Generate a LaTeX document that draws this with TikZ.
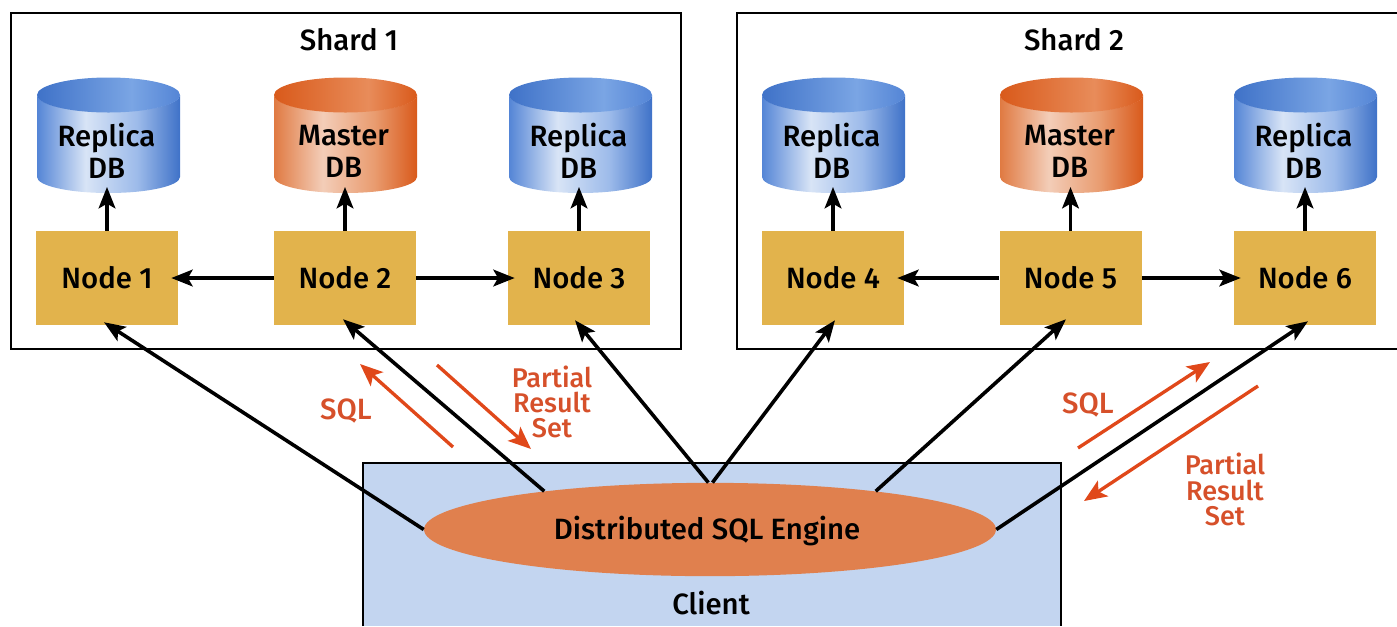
\documentclass[tikz,border=0pt]{standalone}
\usepackage{fontspec}
\setmainfont{Fira Sans}[BoldFont={Fira Sans Medium}]
\usetikzlibrary{arrows.meta,calc,shapes.geometric}
\definecolor{bluee}{HTML}{3F72C8}
\definecolor{bluele}{HTML}{5485D6}
\definecolor{bluel}{HTML}{D8E4F6}
\definecolor{bluem}{HTML}{9DBBEA}
\definecolor{bluet}{HTML}{7AA5E4}
\definecolor{orge}{HTML}{D95A1B}
\definecolor{orgle}{HTML}{E07A42}
\definecolor{orgl}{HTML}{F3CDB8}
\definecolor{orgm}{HTML}{E99C70}
\definecolor{orgt}{HTML}{E88C5A}
\definecolor{gold}{HTML}{E2B34C}
\definecolor{clientc}{HTML}{C3D5F0}
\definecolor{engc}{HTML}{E0804E}
\definecolor{redt}{HTML}{E0481A}
\definecolor{redl}{HTML}{D6502A}
\pgfdeclarehorizontalshading{bluebody}{100bp}{color(0bp)=(bluele); color(25bp)=(bluele); color(42bp)=(bluel); color(60bp)=(bluem); color(75bp)=(bluee); color(100bp)=(bluee)}
\pgfdeclarehorizontalshading{orgbody}{100bp}{color(0bp)=(orgle); color(25bp)=(orgle); color(42bp)=(orgl); color(60bp)=(orgm); color(75bp)=(orge); color(100bp)=(orge)}
\pgfdeclarehorizontalshading{bluetop}{100bp}{color(0bp)=(bluee); color(25bp)=(bluee); color(58bp)=(bluet); color(75bp)=(bluele); color(100bp)=(bluele)}
\pgfdeclarehorizontalshading{orgtop}{100bp}{color(0bp)=(orge); color(25bp)=(orge); color(58bp)=(orgt); color(75bp)=(orge); color(100bp)=(orge)}
\tikzset{
  shardbox/.style={draw=black,line width=1.4pt,minimum width=#1*0.75pt,minimum height=252pt,inner sep=0pt},
  frameline/.style={draw=black,line width=1.4pt},
  nodebox/.style={fill=gold,minimum width=106.5pt,minimum height=70.5pt,inner sep=0pt,font=\fontsize{22}{24}\selectfont\bfseries},
  lbl/.style={font=\fontsize{22}{24}\selectfont\bfseries,align=center,inner sep=0pt},
  redlbl/.style={font=\fontsize{20.3}{19}\selectfont\bfseries,align=center,inner sep=0pt,text=redl},
  sqllbl/.style={font=\fontsize{22}{24}\selectfont\bfseries,inner sep=0pt,text=redl},
  blk/.style={line width=2.7pt,-{Stealth[length=16pt,width=12.5pt,inset=3.5pt]}},
  red/.style={line width=2.5pt,draw=redt,-{Stealth[length=17pt,width=14pt,inset=4pt]}},
}
\newcommand{\lowtxt}[1]{\raisebox{-1.6pt}{#1}}
% name, centre x, body shading, top shading, text
\newcommand{\dbcyl}[5]{%
  \shade[shading=#3] (#2-71.5,95) -- (#2-71.5,177) arc[start angle=180,end angle=360,x radius=71.5,y radius=-16] -- (#2+71.5,95) arc[start angle=0,end angle=-180,x radius=71.5,y radius=-17] -- cycle;
  \shade[shading=#4] (#2,95) ellipse[x radius=71.5,y radius=17.5];
  \node[lbl] (#1) at (#2-2,151) {#5};
  \coordinate (#1tip) at (#2,187);
}
\begin{document}
\begin{tikzpicture}[x=0.75pt,y=-0.75pt]
\useasboundingbox (0,0) rectangle (1397,626);
\node[shardbox=670] (s1) at (346,181) {};
\draw[frameline] (1397,13) -- (737,13) -- (737,349) -- (1397,349);
\node[lbl] (s1t) at (349,40) {Shard 1};
\node[lbl] (s2t) at (1074,40) {Shard 2};
\dbcyl{r1}{108.5}{bluebody}{bluetop}{Replica\\DB}
\dbcyl{m1}{345.5}{orgbody}{orgtop}{Master\\DB}
\dbcyl{r3}{580.5}{bluebody}{bluetop}{Replica\\DB}
\dbcyl{r4}{833.5}{bluebody}{bluetop}{Replica\\DB}
\dbcyl{m2}{1071.5}{orgbody}{orgtop}{Master\\DB}
\dbcyl{r6}{1305.5}{bluebody}{bluetop}{Replica\\DB}
\node[nodebox] (n1) at (107,278) {\lowtxt{Node 1}};
\node[nodebox] (n2) at (345,278) {\lowtxt{Node 2}};
\node[nodebox] (n3) at (579,278) {\lowtxt{Node 3}};
\node[nodebox] (n4) at (833,278) {\lowtxt{Node 4}};
\node[nodebox] (n5) at (1070.5,278) {\lowtxt{Node 5}};
\node[nodebox] (n6) at (1305,278) {\lowtxt{Node 6}};
\draw[blk] (n1.north) -- (n1.north |- r1tip);
\draw[blk] (n2.north) -- (n2.north |- m1tip);
\draw[blk] (n3.north) -- (n3.north |- r3tip);
\draw[blk] (n4.north) -- (n4.north |- r4tip);
\draw[blk] (n5.north) -- (n5.north |- m2tip);
\draw[blk] (n6.north) -- (n6.north |- r6tip);
\draw[blk,shorten >=-5.25pt] (n2) -- (n1);
\draw[blk,shorten >=-5.25pt] (n2) -- (n3);
\draw[blk,shorten >=-5.25pt] (n5) -- (n4);
\draw[blk,shorten >=-5.25pt] (n5) -- (n6);
\fill[clientc] (363,626) -- (363,463) -- (1061,463) -- (1061,626) -- cycle;
\draw[frameline] (363,626) -- (363,463) -- (1061,463) -- (1061,626);
\node[fill=engc,shape=ellipse,minimum width=429pt,minimum height=70pt,inner sep=0pt] (eng) at (710,529.5) {};
\node[lbl] (engt) at (707,530.5) {Distributed SQL Engine};
\node[lbl] (cl) at (711,603) {Client};
\draw[blk] (eng.180) -- ($(n1.south)+(-3,-3)$);
\draw[blk] (eng.167) -- ($(n2.south)+(-2,-6)$);
\draw[blk] (eng.92.5) -- ($(n3.south)+(-4,-5)$);
\draw[blk] (eng.87.5) -- ($(n4.south)+(2,-5)$);
\draw[blk] (eng.13) -- ($(n5.south)+(-4.5,-6)$);
\draw[blk] (eng.0) -- ($(n6.south)+(3,-4)$);
\coordinate (a1) at (453,447); \coordinate (a2) at (360,364);
\coordinate (b1) at (437,365); \coordinate (b2) at (531,449);
\coordinate (c1) at (1078,448); \coordinate (c2) at (1210,362);
\coordinate (d1) at (1258,386); \coordinate (d2) at (1084,501);
\draw[red] (a1) -- (a2);
\draw[red] (b1) -- (b2);
\draw[red] (c1) -- (c2);
\draw[red] (d1) -- (d2);
\node[sqllbl] (l1) at (346,411) {SQL};
\node[redlbl] (l2) at (552,402) {Partial\\Result\\Set};
\node[sqllbl] (l3) at (1088,405) {SQL};
\node[redlbl] (l4) at (1225,489.5) {Partial\\Result\\Set};
\end{tikzpicture}
\end{document}
